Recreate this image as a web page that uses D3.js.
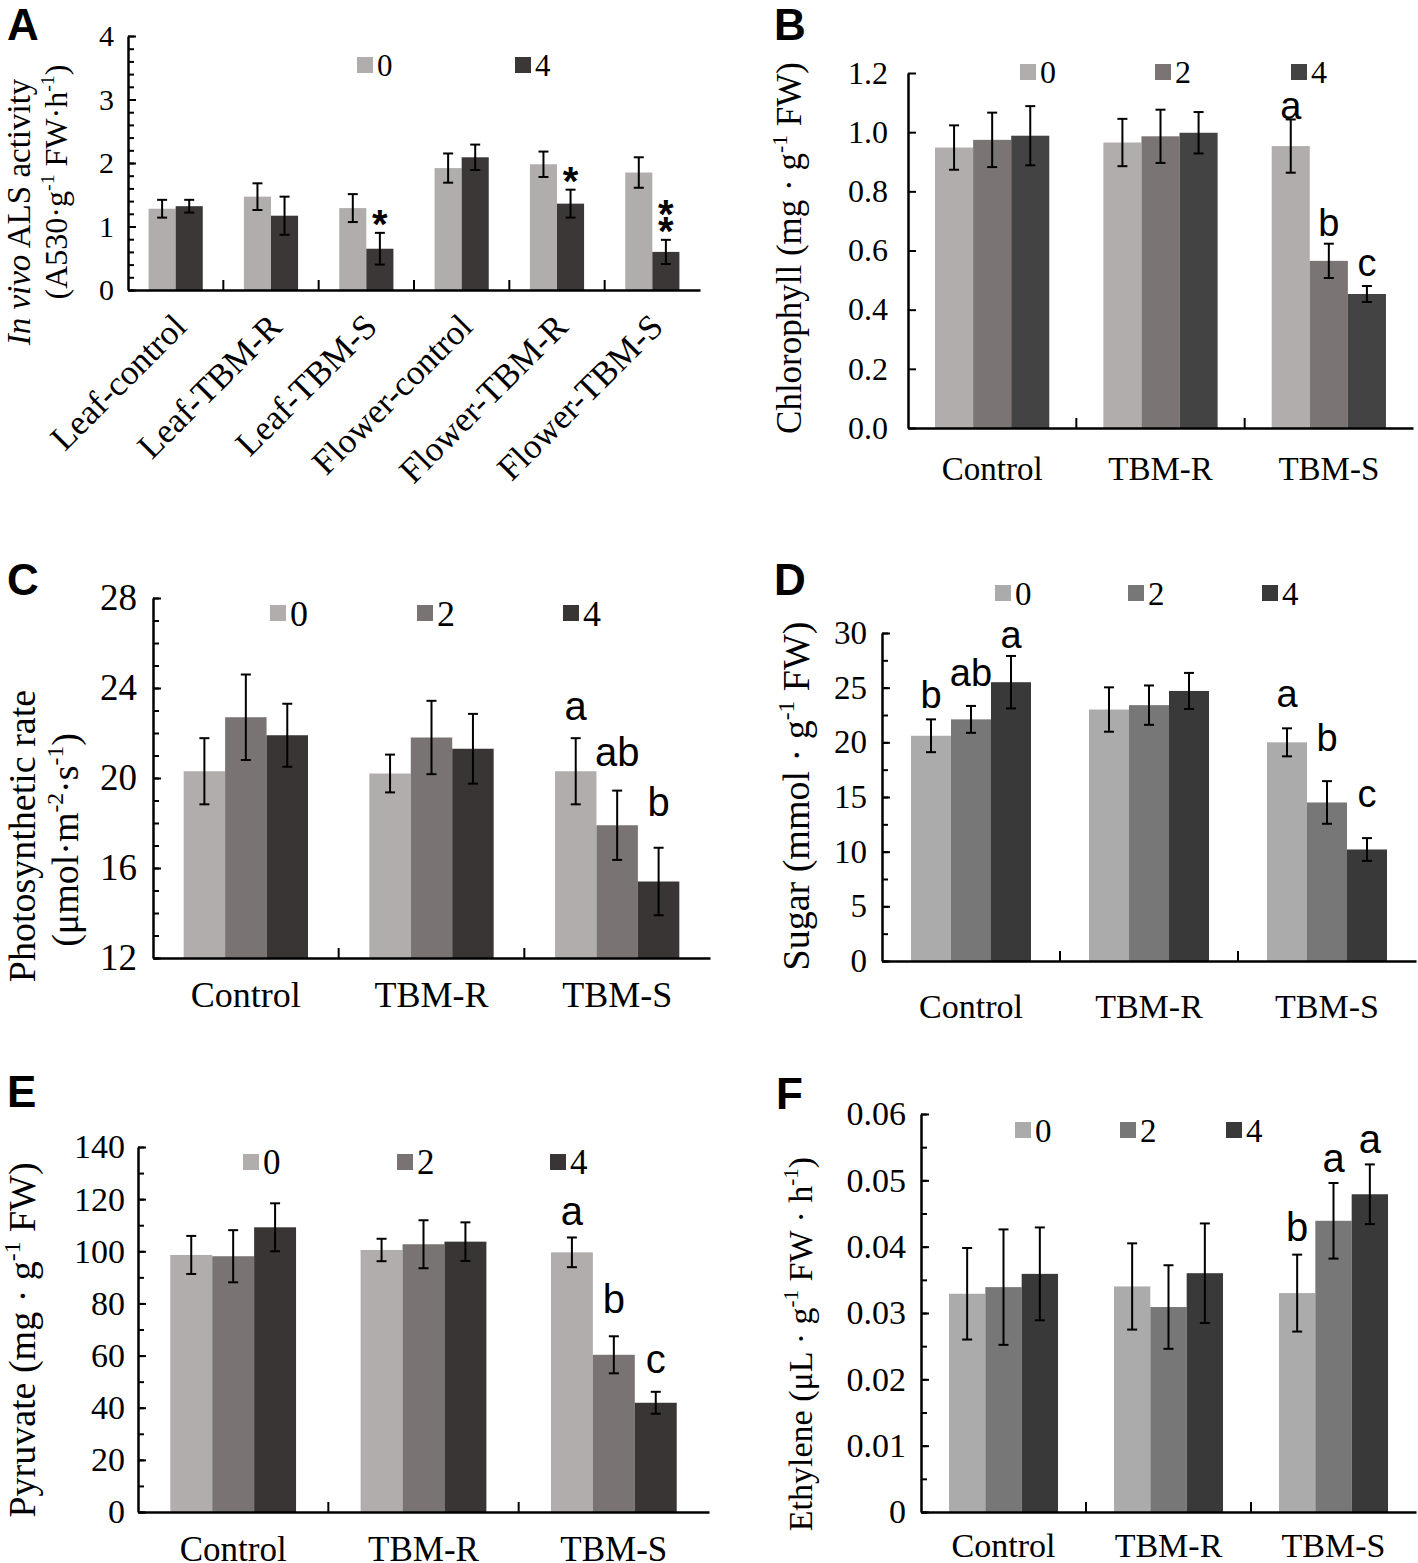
<!DOCTYPE html>
<html>
<head>
<meta charset="utf-8">
<script src="https://cdn.jsdelivr.net/npm/d3@7"></script>
<style>
  body { margin: 0; background: #fff; }
  svg { display: block; }
</style>
</head>
<body>
<svg id="fig" width="1418" height="1563"></svg>
<script>
// ---- data ----
const tissueGroups = ["Leaf-control", "Leaf-TBM-R", "Leaf-TBM-S", "Flower-control", "Flower-TBM-R", "Flower-TBM-S"];
const alsDays = ["0", "4"];
// [group][day]
const alsActivity = [[1.28, 1.32], [1.47, 1.17], [1.29, 0.65], [1.92, 2.09], [1.98, 1.36], [1.85, 0.60]];
const alsError    = [[0.14, 0.10], [0.21, 0.30], [0.22, 0.25], [0.23, 0.20], [0.20, 0.22], [0.24, 0.19]];
const alsMarks    = [["", ""], ["", ""], ["", "*"], ["", ""], ["", "*"], ["", "**"]];

const treatGroups = ["Control", "TBM-R", "TBM-S"];
const days = ["0", "2", "4"];

const chlorophyll    = [[0.948, 0.974, 0.988], [0.965, 0.986, 0.998], [0.953, 0.565, 0.453]];
const chlorophyllErr = [[0.075, 0.092, 0.100], [0.080, 0.090, 0.070], [0.090, 0.058, 0.027]];
const chlorophyllSig = [["", "", ""], ["", "", ""], ["a", "b", "c"]];

const photosynthesis    = [[20.3, 22.7, 21.9], [20.2, 21.8, 21.3], [20.3, 17.9, 15.4]];
const photosynthesisErr = [[1.47, 1.90, 1.40], [0.84, 1.63, 1.55], [1.47, 1.54, 1.50]];
const photosynthesisSig = [["", "", ""], ["", "", ""], ["a", "ab", "b"]];

const sugar    = [[20.6, 22.1, 25.5], [23.0, 23.4, 24.7], [20.0, 14.5, 10.2]];
const sugarErr = [[1.5, 1.23, 2.4], [2.03, 1.8, 1.65], [1.28, 1.95, 1.04]];
const sugarSig = [["b", "ab", "a"], ["", "", ""], ["a", "b", "c"]];

const pyruvate    = [[98.6, 98.1, 109.2], [100.5, 102.7, 103.7], [99.6, 60.3, 41.9]];
const pyruvateErr = [[7.3, 10.0, 9.2], [4.3, 9.2, 7.4], [5.7, 7.1, 4.2]];
const pyruvateSig = [["", "", ""], ["", "", ""], ["a", "b", "c"]];

const ethylene    = [[0.0329, 0.0339, 0.0359], [0.0340, 0.0309, 0.0360], [0.0330, 0.0439, 0.0479]];
const ethyleneErr = [[0.0069, 0.0087, 0.0070], [0.0065, 0.0063, 0.0075], [0.0058, 0.0057, 0.0045]];
const ethyleneSig = [["", "", ""], ["", "", ""], ["b", "a", "a"]];

// ---- styling ----
const SERIF = "'Liberation Serif', 'Times New Roman', serif";
const SANS = "'Liberation Sans', Arial, sans-serif";
const greysWarm = ["#b1adad", "#797373", "#3a3535"];
const greysCool = ["#ababab", "#777777", "#393939"];

const svg = d3.select("#fig");

function richText(el, parts, fs) {
    let shift = 0;
    parts.forEach(([t, s]) => {
        const ts = el.append("tspan").text(t);
        const target = s === "sup" ? -fs * 0.4 : 0;
        if (target !== shift) {
            ts.attr("dy", target - shift);
            shift = target;
        }
        if (s === "sup") ts.attr("font-size", fs * 0.62);
        if (s === "it") ts.attr("font-style", "italic");
    });
}

function drawPanel(p) {
    const g = svg.append("g");

    const y = d3.scaleLinear().domain(p.domain).range([p.bottom, p.top]);
    const x0 = d3.scaleBand().domain(p.groups).range([p.left, p.right]);
    const x1 = d3.scaleBand().domain(p.series).range([0, x0.bandwidth()]).paddingOuter(p.pad);

    const bars = [];
    p.groups.forEach((grp, gi) => {
        p.series.forEach((s, si) => {
            bars.push({ grp, gi, s, si, v: p.values[gi][si], e: p.errors[gi][si], lab: p.sig[gi][si] });
        });
    });
    const cx = d => x0(d.grp) + x1(d.s) + x1.bandwidth() / 2;
    const gap = d => p.sigGaps ? p.sigGaps[d.gi][d.si] : p.sigGap;

    // bars
    g.selectAll(".bar")
        .data(bars)
        .enter().append("rect")
        .attr("x", d => x0(d.grp) + x1(d.s))
        .attr("y", d => y(d.v))
        .attr("width", x1.bandwidth())
        .attr("height", d => y(p.domain[0]) - y(d.v))
        .attr("fill", d => p.colors[d.si]);

    // error bars
    const eb = g.selectAll(".err")
        .data(bars)
        .enter().append("g")
        .attr("transform", d => `translate(${cx(d)},0)`)
        .attr("stroke", "#000")
        .attr("stroke-width", 2);
    eb.append("line").attr("y1", d => y(d.v - d.e)).attr("y2", d => y(d.v + d.e));
    eb.append("line").attr("x1", -5).attr("x2", 5).attr("y1", d => y(d.v + d.e)).attr("y2", d => y(d.v + d.e));
    eb.append("line").attr("x1", -5).attr("x2", 5).attr("y1", d => y(d.v - d.e)).attr("y2", d => y(d.v - d.e));

    // significance letters / asterisks (a "**" is stacked one above the other)
    const marks = [];
    bars.filter(d => d.lab).forEach(d => {
        d.lab.split(d.lab.startsWith("*") ? "" : "|").forEach((ch, k, arr) => {
            marks.push({ d, ch, lift: (arr.length - 1 - k) * 17 });
        });
    });
    g.selectAll(".sig")
        .data(marks)
        .enter().append("text")
        .attr("x", m => cx(m.d))
        .attr("y", m => y(m.d.v + m.d.e) - gap(m.d) - m.lift)
        .attr("text-anchor", "middle")
        .attr("font-family", SANS)
        .attr("font-size", p.sigSize)
        .attr("font-weight", p.sigBold ? "bold" : "normal")
        .text(m => m.ch);

    // y axis (ticks inside)
    const yAxis = g.append("g")
        .attr("transform", `translate(${p.left},0)`)
        .call(d3.axisLeft(y).tickValues(p.ticks).tickFormat(p.fmt).tickSize(-8).tickSizeOuter(0).tickPadding(p.tickPad));
    yAxis.select(".domain").attr("stroke-width", 2.5);
    yAxis.selectAll(".tick line").attr("stroke-width", 2);
    yAxis.selectAll("text").attr("font-family", SERIF).attr("font-size", p.tickSize).attr("fill", "#000");

    if (p.minor) {
        const minorAxis = g.append("g")
            .attr("transform", `translate(${p.left},0)`)
            .call(d3.axisLeft(y).tickValues(p.minor).tickFormat("").tickSize(-6));
        minorAxis.select(".domain").remove();
        minorAxis.selectAll(".tick line").attr("stroke-width", 2);
    }

    // x axis
    const xAxis = g.append("g")
        .attr("transform", `translate(0,${p.bottom})`)
        .call(d3.axisBottom(x0).tickSize(0).tickSizeOuter(0));
    xAxis.select(".domain").attr("stroke-width", 2.5);
    const xt = xAxis.selectAll("text")
        .attr("font-family", SERIF)
        .attr("font-size", p.labelSize)
        .attr("fill", "#000");
    if (p.rotate) {
        xt.attr("y", 0).attr("dy", "0.35em")
            .attr("text-anchor", "end")
            .attr("transform", `translate(${p.rotOffset[0]},${p.rotOffset[1]}) rotate(-45)`);
    } else {
        xt.attr("y", p.labelY - p.bottom).attr("dy", "0.35em");
    }
    // category separator ticks (inside)
    g.selectAll(".sep")
        .data(p.groups.slice(1))
        .enter().append("line")
        .attr("x1", d => x0(d)).attr("x2", d => x0(d))
        .attr("y1", p.bottom).attr("y2", p.bottom - 10)
        .attr("stroke", "#000").attr("stroke-width", 2);

    // legend
    p.series.forEach((s, si) => {
        g.append("rect")
            .attr("x", p.legendX[si]).attr("y", p.legendY - 8)
            .attr("width", 16).attr("height", 16)
            .attr("fill", p.colors[si]);
        g.append("text")
            .attr("x", p.legendX[si] + 20).attr("y", p.legendY)
            .attr("dy", "0.35em")
            .attr("font-family", SERIF).attr("font-size", p.legendSize)
            .text(s);
    });

    // y title
    p.title.forEach(line => {
        const fs = line.size || p.titleSize;
        const t = g.append("text")
            .attr("transform", `translate(${line.x + fs * 0.35},${line.y}) rotate(-90)`)
            .attr("text-anchor", "middle")
            .attr("font-family", SERIF)
            .attr("font-size", fs);
        richText(t, line.parts, fs);
    });

    // panel letter
    g.append("text")
        .attr("x", p.tag[1]).attr("y", p.tag[2])
        .attr("font-family", SANS).attr("font-weight", "bold").attr("font-size", 44)
        .text(p.tag[0]);
}

drawPanel({
    tag: ["A", 7, 40],
    groups: tissueGroups, series: alsDays, values: alsActivity, errors: alsError, sig: alsMarks,
    colors: [greysWarm[0], "#3b3737"],
    domain: [0, 4], ticks: d3.range(0, 4.01, 1), minor: d3.range(0, 4.01, 0.2), fmt: d3.format("d"),
    left: 128, right: 700, top: 36, bottom: 290, pad: 0.76,
    tickPad: 14, tickSize: 30, labelSize: 35, rotate: true, rotOffset: [4, 30],
    legendX: [357, 515], legendY: 65, legendSize: 31,
    sigGap: -5, sigSize: 40, sigBold: true,
    titleSize: 33,
    title: [
        { x: 18, y: 212, parts: [["In vivo", "it"], [" ALS activity"]] },
        { x: 56, y: 182, size: 32, parts: [["(A530·g"], ["-1", "sup"], [" FW·h"], ["-1", "sup"], [")"]] }
    ]
});

drawPanel({
    tag: ["B", 774, 40],
    groups: treatGroups, series: days, values: chlorophyll, errors: chlorophyllErr, sig: chlorophyllSig,
    colors: ["#b1adac", "#7a7474", "#434343"],
    domain: [0, 1.2], ticks: d3.range(0, 1.21, 0.2), minor: null, fmt: d3.format(".1f"),
    left: 908, right: 1413, top: 73, bottom: 428, pad: 0.71,
    tickPad: 20, tickSize: 32, labelSize: 33, labelY: 468,
    legendX: [1020, 1155, 1291], legendY: 72, legendSize: 32,
    sigGaps: [[0, 0, 0], [0, 0, 0], [0, 8, 10]], sigSize: 38,
    titleSize: 35,
    title: [{ x: 789, y: 248, parts: [["Chlorophyll (mg · g"], ["-1", "sup"], [" FW)"]] }]
});

drawPanel({
    tag: ["C", 7, 595],
    groups: treatGroups, series: days, values: photosynthesis, errors: photosynthesisErr, sig: photosynthesisSig,
    colors: greysWarm,
    domain: [12, 28], ticks: d3.range(12, 28.1, 4), minor: d3.range(12, 28.1, 1), fmt: d3.format("d"),
    left: 153, right: 710, top: 598, bottom: 958, pad: 0.74,
    tickPad: 16, tickSize: 37, labelSize: 36, labelY: 994,
    legendX: [270, 417, 563], legendY: 613, legendSize: 36,
    sigGaps: [[0, 0, 0], [0, 0, 0], [18, 25, 32]], sigSize: 40,
    titleSize: 38,
    title: [
        { x: 22, y: 836, parts: [["Photosynthetic  rate"]] },
        { x: 65, y: 840, parts: [["(μmol·m"], ["-2", "sup"], ["·s"], ["-1", "sup"], [")"]] }
    ]
});

drawPanel({
    tag: ["D", 774, 595],
    groups: treatGroups, series: days, values: sugar, errors: sugarErr, sig: sugarSig,
    colors: greysCool,
    domain: [0, 30], ticks: d3.range(0, 30.1, 5), minor: d3.range(0, 30.1, 2.5), fmt: d3.format("d"),
    left: 882, right: 1416, top: 633, bottom: 961, pad: 0.725,
    tickPad: 15, tickSize: 33, labelSize: 34, labelY: 1006,
    legendX: [995, 1128, 1262], legendY: 593, legendSize: 33,
    sigGaps: [[11, 20, 8], [0, 0, 0], [21, 30, 31]], sigSize: 38,
    titleSize: 38,
    title: [{ x: 796, y: 796, parts: [["Sugar (mmol · g"], ["-1", "sup"], [" FW)"]] }]
});

drawPanel({
    tag: ["E", 7, 1107],
    groups: treatGroups, series: days, values: pyruvate, errors: pyruvateErr, sig: pyruvateSig,
    colors: greysWarm,
    domain: [0, 140], ticks: d3.range(0, 140.1, 20), minor: d3.range(0, 140.1, 10), fmt: d3.format("d"),
    left: 138, right: 709, top: 1147, bottom: 1512, pad: 0.77,
    tickPad: 13, tickSize: 34, labelSize: 35, labelY: 1549,
    legendX: [243, 397, 550], legendY: 1162, legendSize: 35,
    sigGaps: [[0, 0, 0], [0, 0, 0], [12, 23, 19]], sigSize: 40,
    titleSize: 38,
    title: [{ x: 22, y: 1340, parts: [["Pyruvate (mg · g"], ["-1", "sup"], [" FW)"]] }]
});

drawPanel({
    tag: ["F", 776, 1109],
    groups: treatGroups, series: days, values: ethylene, errors: ethyleneErr, sig: ethyleneSig,
    colors: greysCool,
    domain: [0, 0.06], ticks: d3.range(0, 0.0601, 0.01), minor: d3.range(0, 0.0601, 0.005),
    fmt: d => d === 0 ? "0" : d3.format(".2f")(d),
    left: 921, right: 1416, top: 1114, bottom: 1512, pad: 0.77,
    tickPad: 15, tickSize: 34, labelSize: 34, labelY: 1545,
    legendX: [1015, 1120, 1226], legendY: 1130, legendSize: 33,
    sigGaps: [[0, 0, 0], [0, 0, 0], [14, 11, 11]], sigSize: 40,
    titleSize: 34,
    title: [{ x: 800, y: 1344, parts: [["Ethylene (μL · g"], ["-1", "sup"], [" FW · h"], ["-1", "sup"], [")"]] }]
});
</script>
</body>
</html>
